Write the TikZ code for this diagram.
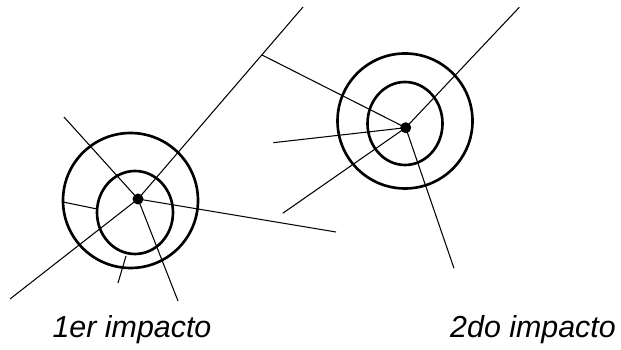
\documentclass[tikz,border=0pt]{standalone}
\usepackage{fontspec}
\setmainfont{Liberation Sans}
\usepackage{tikz}
\tikzset{
  ray/.style={black, line width=0.6pt},
  ring/.style={black, line width=1.5pt},
  impact/.style={fill=black, circle, inner sep=0pt, minimum size=0.22cm},
  caption/.style={anchor=base, font=\fontsize{17.3}{20}\selectfont\itshape},
}

\begin{document}
\begin{tikzpicture}[x=0.02cm, y=-0.02cm]
  \useasboundingbox (0,0) rectangle (621,350);

  % first impact: rings and hit point
  \draw[ring] (130.5,200.5) circle (67.5);
  \draw[ring] (135,212.5) ellipse (38 and 41.5);
  \node[impact] (hitA) at (138,199) {};

  % second impact: rings and hit point
  \draw[ring] (405,121) circle (67.5);
  \draw[ring] (405,123.5) ellipse (37.5 and 41.5);
  \node[impact] (hitB) at (405.7,127.7) {};

  % free ends of the rays
  \coordinate (a1) at (10,299);
  \coordinate (a2) at (303,7);
  \coordinate (a3) at (64,117);
  \coordinate (a4) at (178,301);
  \coordinate (a5) at (336,232);
  \coordinate (a6) at (262,55);
  \coordinate (b1) at (519.3,7.3);
  \coordinate (b2) at (273.3,142.7);
  \coordinate (b3) at (282.7,213.3);
  \coordinate (b4) at (454,268.3);
  \coordinate (s1) at (63,202);
  \coordinate (s2) at (97,209);
  \coordinate (s3) at (118,283);
  \coordinate (s4) at (126,256);

  \draw[ray] (a1) -- (hitA.center) -- (a2);
  \draw[ray] (a3) -- (hitA.center);
  \draw[ray] (hitA.center) -- (a4);
  \draw[ray] (hitA.center) -- (a5);
  \draw[ray] (a6) -- (hitB.center);
  \draw[ray] (hitB.center) -- (b1);
  \draw[ray] (b2) -- (hitB.center);
  \draw[ray] (b3) -- (hitB.center);
  \draw[ray] (hitB.center) -- (b4);
  \draw[ray] (s1) -- (s2);
  \draw[ray] (s3) -- (s4);

  \node[caption] (capA) at (132,338) {1er impacto};
  \node[caption] (capB) at (533,338) {2do impacto};
\end{tikzpicture}
\end{document}
